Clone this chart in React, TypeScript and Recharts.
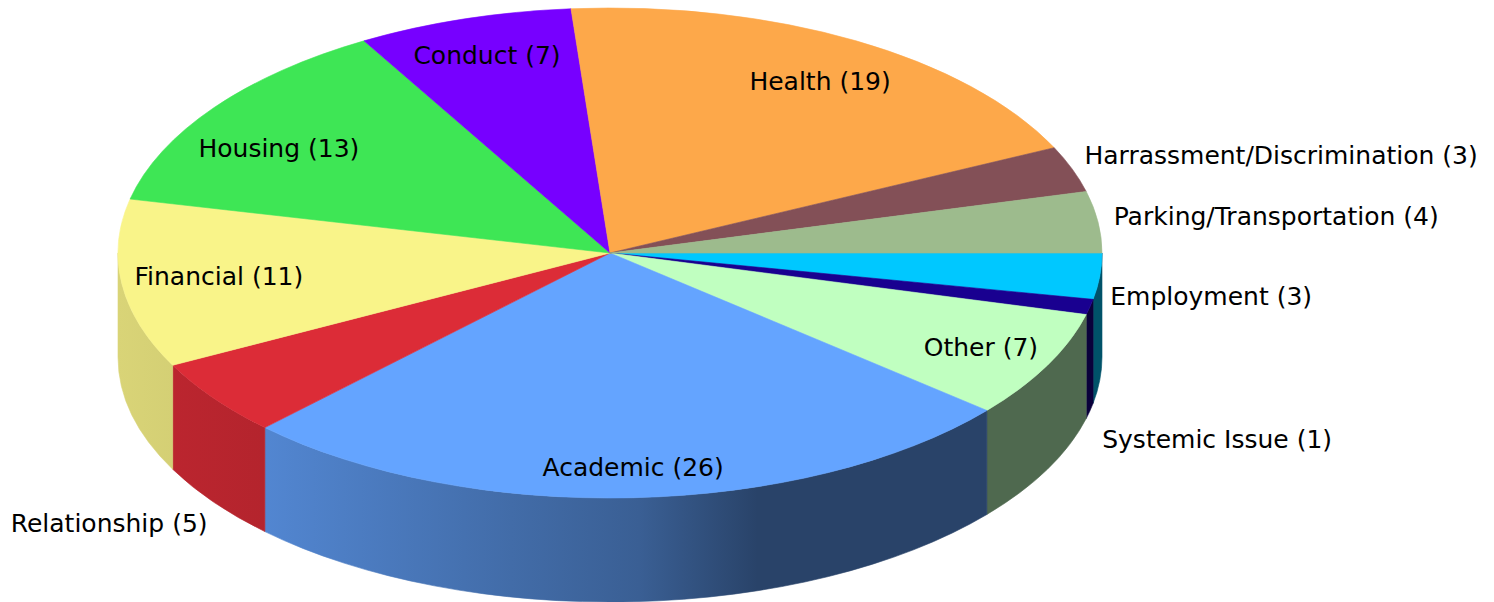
import React from "react";
import { PieChart, Pie, Cell } from "recharts";

const categories = ["Employment", "Systemic Issue", "Other", "Academic", "Relationship", "Financial", "Housing", "Conduct", "Health", "Harrassment/Discrimination", "Parking/Transportation"];
const counts = [3, 1, 7, 26, 5, 11, 13, 7, 19, 3, 4];
const topColors = ["#00c8ff", "#190090", "#c0ffc0", "#64a4ff", "#dc2c37", "#f9f489", "#3ee655", "#7700ff", "#fda84a", "#835057", "#9dbb8d"];

// label anchors, as a share of the pie's horizontal / vertical radius
const labelReachX = [1.222, 1.234, 0.754, 0.047, -1.018, -0.795, -0.673, -0.25, 0.427, 1.364, 1.354];
const labelReachY = [0.176, 0.763, 0.384, 0.877, 1.104, 0.094, -0.425, -0.808, -0.698, -0.4, -0.151];

const chartData = categories.map((name, i) => ({ name, value: counts[i] }));

const WIDTH = 1494;
const HEIGHT = 602;
const CX = 610;
const CY = 253;
const RX = 492;
const SQUASH = 245 / 492;
const DEPTH = 104;
const FONT = "'DejaVu Sans', Verdana, sans-serif";

// wall shading along x: [fraction of pie width, brightness]
const shade: [number, number][] = [[0, 0.87], [0.15, 0.82], [0.4, 0.66], [0.53, 0.58], [0.65, 0.41], [1, 0.41]];

const scaleColor = (hex: string, f: number) => {
  const n = parseInt(hex.slice(1), 16);
  const c = [(n >> 16) & 255, (n >> 8) & 255, n & 255].map((v) => Math.round(v * f));
  return `rgb(${c[0]},${c[1]},${c[2]})`;
};

const Slice3D = (props: any) => {
  const { cx, cy, outerRadius, startAngle, endAngle, index, fill } = props;
  const rx = outerRadius;
  const ry = outerRadius * SQUASH;
  const t0 = -startAngle;
  const t1 = -endAngle;
  const pt = (deg: number, dy = 0) => {
    const r = (deg * Math.PI) / 180;
    return [cx + rx * Math.cos(r), cy + ry * Math.sin(r) + dy];
  };
  const [sx, sy] = pt(t0);
  const [ex, ey] = pt(t1);
  const large = t1 - t0 > 180 ? 1 : 0;
  const top = `M${cx},${cy}L${sx},${sy}A${rx},${ry} 0 ${large} 1 ${ex},${ey}Z`;
  const w0 = Math.max(t0, 0);
  const w1 = Math.min(t1, 180);
  let wall = null;
  if (w1 > w0) {
    const [ax, ay] = pt(w0);
    const [bx, by] = pt(w1);
    const [cx2, cy2] = pt(w1, DEPTH);
    const [dx, dy] = pt(w0, DEPTH);
    const d = `M${ax},${ay}A${rx},${ry} 0 0 1 ${bx},${by}L${cx2},${cy2}A${rx},${ry} 0 0 0 ${dx},${dy}Z`;
    const id = `wall-${index}`;
    wall = (
      <g>
        <defs>
          <linearGradient id={id} gradientUnits="userSpaceOnUse" x1={cx - rx} x2={cx + rx} y1={0} y2={0}>
            {shade.map(([o, f]) => (
              <stop key={o} offset={o} stopColor={scaleColor(fill, f)} />
            ))}
          </linearGradient>
        </defs>
        <path d={d} fill={`url(#${id})`} stroke={`url(#${id})`} strokeWidth={0.6} />
      </g>
    );
  }
  return (
    <g>
      {wall}
      <path d={top} fill={fill} stroke={fill} strokeWidth={0.6} />
    </g>
  );
};

const renderLabel = (props: any) => {
  const { index, cx, cy, outerRadius, name, value } = props;
  return (
    <text
      x={cx + labelReachX[index] * outerRadius}
      y={cy + labelReachY[index] * outerRadius * SQUASH}
      textAnchor="middle"
      dominantBaseline="central"
      fontFamily={FONT}
      fontSize={25}
      fill="#000"
    >
      {`${name} (${value})`}
    </text>
  );
};

export default function App() {
  return (
    <div style={{ position: "absolute", left: 0, top: 0, width: WIDTH, height: HEIGHT, background: "#fff", overflow: "hidden" }}>
      <PieChart width={WIDTH} height={HEIGHT} margin={{ top: 0, right: 0, bottom: 0, left: 0 }}>
        <Pie
          data={chartData}
          dataKey="value"
          nameKey="name"
          cx={CX}
          cy={CY}
          outerRadius={RX}
          innerRadius={0}
          startAngle={0}
          endAngle={-360}
          stroke="none"
          isAnimationActive={false}
          labelLine={false}
          label={renderLabel}
          shape={Slice3D}
          inactiveShape={Slice3D}
        >
          {chartData.map((d, i) => (
            <Cell key={d.name} fill={topColors[i]} />
          ))}
        </Pie>
      </PieChart>
    </div>
  );
}
